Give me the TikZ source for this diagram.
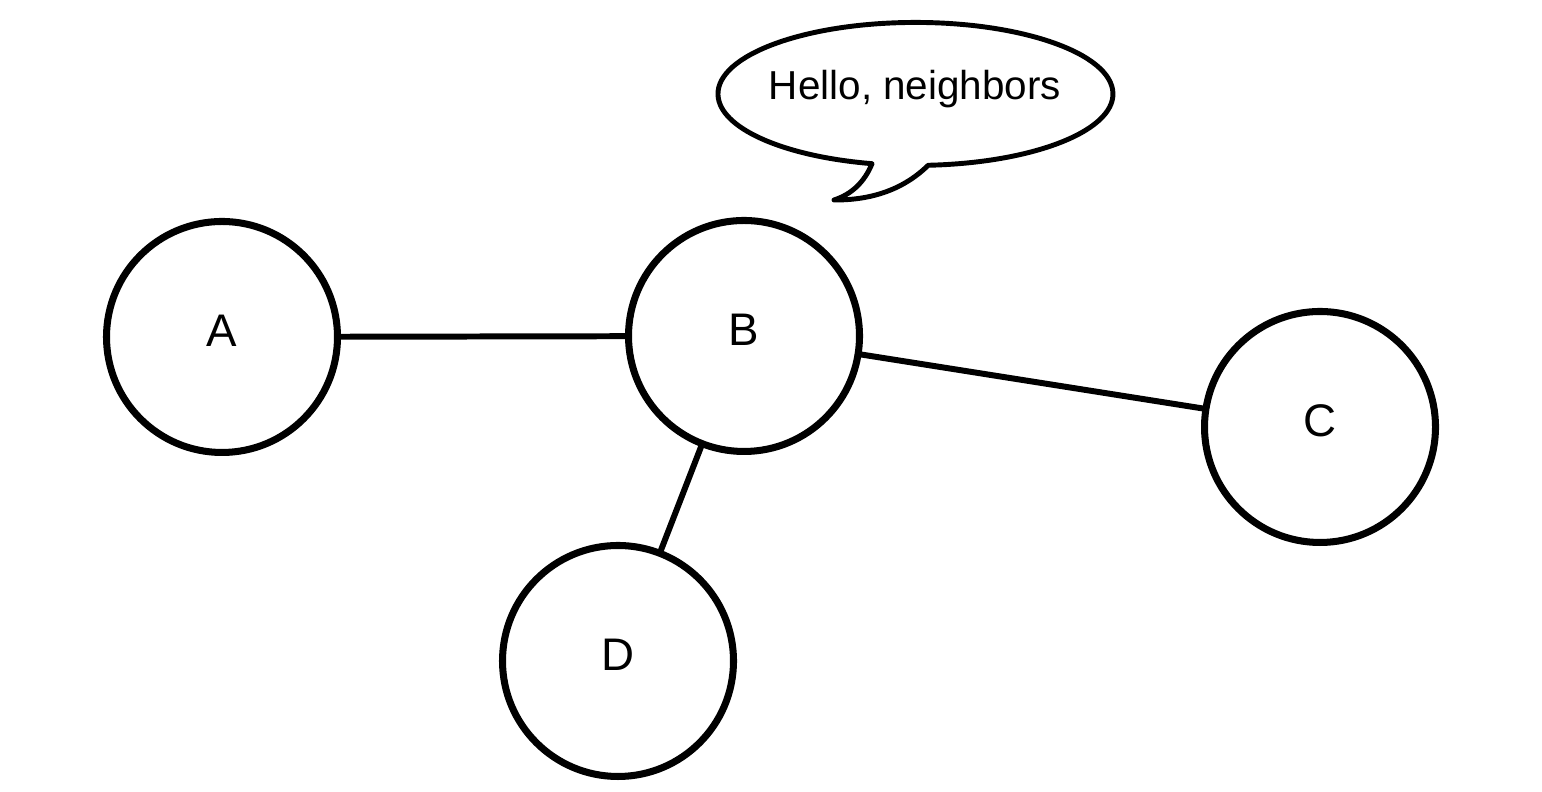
\documentclass[tikz,border=0pt]{standalone}
\usepackage{fontspec}
\setmainfont{Liberation Sans}
\usetikzlibrary{shapes.geometric}

\begin{document}
\begin{tikzpicture}[line cap=round]
  % Styles
  \tikzstyle{vertex}=[circle,draw,line width=2pt,minimum size=2.31cm,inner sep=0pt,
    font=\fontsize{13}{15}\selectfont,text depth=0.34em]
  \tikzstyle{link}=[line width=1.7pt]
  \tikzstyle{bubble}=[line width=1.4pt,line join=round]

  \useasboundingbox (0,0) rectangle (15.42,7.92);

  % The graphic
  \node[vertex] (A) at (2.22,4.55) {A};
  \node[vertex] (B) at (7.44,4.56) {B};
  \node[vertex] (C) at (13.20,3.65) {C};
  \node[vertex] (D) at (6.18,1.31) {D};

  \draw[style=link] (A) -- (B);
  \draw[style=link] (B) -- (C);
  \draw[style=link] (B) -- (D);

  % speech bubble
  \draw[style=bubble] (9.282,6.267)
    arc[start angle=273.7,end angle=617.3,x radius=1.975,y radius=0.715]
    .. controls (8.643,6.097) and (8.516,5.977) .. (8.34,5.92)
    .. controls (8.729,5.917) and (9.043,6.033) .. (9.282,6.267) -- cycle;
  \node[anchor=base,font=\fontsize{11.5}{14}\selectfont] (msg) at (9.15,6.92) {Hello, neighbors};
\end{tikzpicture}
\end{document}
